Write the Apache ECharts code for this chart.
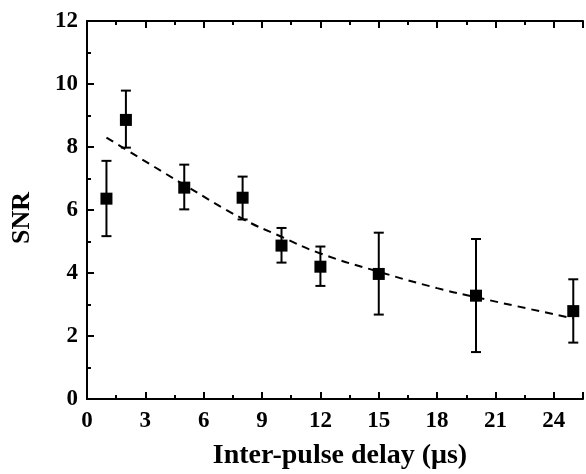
<!DOCTYPE html>
<html><head><meta charset="utf-8">
<script src="https://cdn.jsdelivr.net/npm/echarts@6/dist/echarts.min.js"></script>
<style>html,body{margin:0;padding:0;background:#fff}#c{width:586px;height:474px}</style>
</head><body><div id="c"></div>
<script>
const delays = [1, 2, 5, 8, 10, 12, 15, 20, 25];
const snr = [6.36, 8.86, 6.71, 6.39, 4.87, 4.20, 3.97, 3.28, 2.79];
const errLow = [5.17, 7.98, 6.02, 5.70, 4.33, 3.59, 2.68, 1.49, 1.79];
const errHigh = [7.56, 9.79, 7.44, 7.06, 5.43, 4.84, 5.28, 5.08, 3.80];
const fitX = [1, 2, 5, 8, 10, 12, 15, 18, 20, 25];
const fitY = [8.30, 7.92, 6.80, 5.72, 5.15, 4.62, 4.04, 3.52, 3.23, 2.56];
const xTicks = [0, 3, 6, 9, 12, 15, 18, 21, 24];
const yTicks = [0, 2, 4, 6, 8, 10, 12];
const xTitle = 'Inter-pulse delay (\u03bcs)';
const yTitle = 'SNR';

const font = '"Liberation Serif", "Times New Roman", serif';
const chart = echarts.init(document.getElementById('c'));
const axisCommon = {
  axisLine: {show: true, onZero: false, lineStyle: {color: '#000', width: 2}},
  axisTick: {show: true, inside: true, length: 7, lineStyle: {color: '#000', width: 2}},
  minorTick: {show: true, splitNumber: 2, length: 4, lineStyle: {color: '#000', width: 2}},
  splitLine: {show: false}
};
chart.setOption({
  animation: false,
  grid: {left: 87, top: 21, right: 0, bottom: 75, containLabel: false},
  graphic: [
    {type: 'text', x: 22, y: 218, rotation: Math.PI / 2,
      style: {text: yTitle, fill: '#000', font: 'bold 26px ' + font, align: 'center', verticalAlign: 'middle'}},
    {type: 'text', x: 340, y: 456,
      style: {text: xTitle, fill: '#000', font: 'bold 28px ' + font, align: 'center', verticalAlign: 'middle'}}
  ],
  xAxis: [
    Object.assign({}, axisCommon, {
      type: 'value', min: 0, max: 25.5, interval: 3, position: 'bottom',
      axisLabel: {color: '#000', fontFamily: font, fontWeight: 'bold', fontSize: 23, margin: 11,
        formatter: v => xTicks.includes(v) ? String(v) : ''}
    }),
    Object.assign({}, axisCommon, {
      type: 'value', min: 0, max: 25.5, interval: 3, position: 'top',
      axisLabel: {show: false}
    })
  ],
  yAxis: [
    Object.assign({}, axisCommon, {
      type: 'value', min: 0, max: 12, interval: 2,
      axisLabel: {color: '#000', fontFamily: font, fontWeight: 'bold', fontSize: 23, margin: 9,
        formatter: v => yTicks.includes(v) ? String(v) : ''}
    })
  ],
  series: [
    {
      type: 'line', data: fitX.map((x, i) => [x, fitY[i]]), smooth: true, showSymbol: false,
      lineStyle: {color: '#000', width: 2, type: [8, 6]}, z: 1
    },
    {
      type: 'custom', z: 2,
      data: delays.map((x, i) => [x, errLow[i], errHigh[i]]),
      renderItem: function (params, api) {
        const lo = api.coord([api.value(0), api.value(1)]);
        const hi = api.coord([api.value(0), api.value(2)]);
        const w = 5;
        const st = {stroke: '#000', lineWidth: 2};
        return {type: 'group', children: [
          {type: 'line', shape: {x1: lo[0], y1: lo[1], x2: hi[0], y2: hi[1]}, style: st},
          {type: 'line', shape: {x1: lo[0] - w, y1: lo[1], x2: lo[0] + w, y2: lo[1]}, style: st},
          {type: 'line', shape: {x1: hi[0] - w, y1: hi[1], x2: hi[0] + w, y2: hi[1]}, style: st}
        ]};
      }
    },
    {
      type: 'scatter', data: delays.map((x, i) => [x, snr[i]]), symbol: 'rect', symbolSize: 12,
      itemStyle: {color: '#000', opacity: 1}, z: 3
    }
  ]
});
</script></body></html>
